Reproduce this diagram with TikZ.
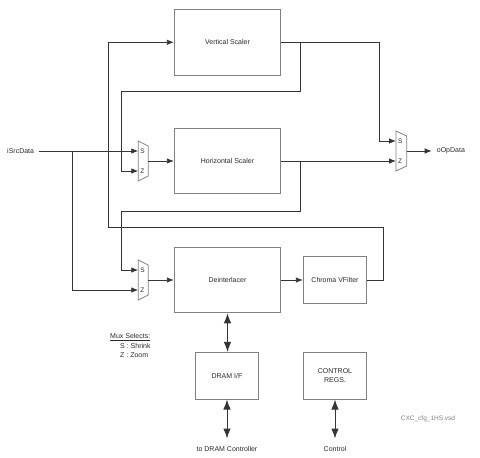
\documentclass[tikz,border=0pt]{standalone}
\usepackage{fontspec}
\setmainfont{Liberation Sans}
\usetikzlibrary{arrows.meta}
\definecolor{boxc}{HTML}{808080}
\definecolor{linec}{HTML}{353535}
\definecolor{txtc}{HTML}{2A2A2A}
\tikzset{
  blk/.style={draw=boxc, line width=0.9pt, fill=white, font=\fontsize{7}{8.5}\selectfont, text=txtc, align=center, inner sep=0pt},
  conn/.style={draw=linec, line width=0.8pt},
  arr/.style={conn, -{Latex[length=7pt,width=5.5pt]}},
  darr/.style={conn, line width=1pt, {Latex[length=10pt,width=7.5pt]}-{Latex[length=10pt,width=7.5pt]}},
  muxs/.style={draw=boxc, line width=0.8pt},
  mlab/.style={font=\fontsize{6.5}{7}\selectfont, text=txtc, inner sep=0pt, anchor=west},
  lab/.style={font=\fontsize{7}{8}\selectfont, text=txtc, inner sep=0pt},
}
\begin{document}
\begin{tikzpicture}[x=1pt,y=-1pt]
\useasboundingbox (0,0) rectangle (480,458);
% blocks
\node[blk, minimum width=106.4pt, minimum height=66pt] (VS) at (227.5,42.3) {Vertical Scaler};
\node[blk, minimum width=106.4pt, minimum height=65.7pt] (HS) at (227.5,161) {Horizontal Scaler};
\node[blk, minimum width=106.4pt, minimum height=65.6pt] (DI) at (227.5,280) {Deinterlacer};
\node[blk, minimum width=63.4pt, minimum height=46.3pt] (CV) at (335,280) {Chroma VFilter};
\node[blk, minimum width=63.4pt, minimum height=46.7pt] (DR) at (227,375.7) {DRAM I/F};
\node[blk, minimum width=63.4pt, minimum height=46.7pt] (CR) at (335,375.7) {CONTROL\\REGS.};
% muxes
\draw[muxs] (138.3,141) -- (148.3,146) -- (148.3,176) -- (138.3,181) -- cycle;
\draw[muxs] (396,131) -- (406.7,136) -- (406.7,166) -- (396,171) -- cycle;
\draw[muxs] (138.3,260) -- (148.3,265) -- (148.3,295) -- (138.3,300) -- cycle;
\coordinate (m1s) at (138.3,151); \coordinate (m1z) at (138.3,171); \coordinate (m1o) at (148.3,161);
\coordinate (m2s) at (396,141);   \coordinate (m2z) at (396,161);   \coordinate (m2o) at (406.7,151);
\coordinate (m3s) at (138.3,270); \coordinate (m3z) at (138.3,290); \coordinate (m3o) at (148.3,280);
\node[mlab] (m1sl) at (140.2,151) {S};
\node[mlab] (m1zl) at (140.2,171) {Z};
\node[mlab] (m2sl) at (397.8,141) {S};
\node[mlab] (m2zl) at (397.8,161) {Z};
\node[mlab] (m3sl) at (140.2,270) {S};
\node[mlab] (m3zl) at (140.2,290) {Z};
% texts
\node[lab, anchor=west] (src) at (7,151) {iSrcData};
\node[lab, anchor=west] (out) at (436.7,151) {oOpData};
\coordinate (outp) at (431.7,151);
\coordinate (jsrc) at (72.3,151);
\coordinate (dramc) at (227,438.5);
\coordinate (ctrlc) at (335,438.5);
\node[lab] (dramt) at (227,449.3) {to DRAM Controller};
\node[lab] (ctrlt) at (335,449.3) {Control};
\node[lab, anchor=west] (ms) at (110,337.3) {\underline{Mux Selects:}};
\node[lab, anchor=west] (msS) at (120,346) {S : Shrink};
\node[lab, anchor=west] (msZ) at (120,354.7) {Z : Zoom};
\node[font=\fontsize{6.5}{7}\selectfont, text=boxc, inner sep=0pt, anchor=west] (fname) at (400.7,418.7) {CXC\_cfg\_1HS.vsd};
% connectors
\draw[arr] (src.east) ++(5,0) -- (m1s);
\draw[arr] (jsrc) |- (m3z);
\draw[arr] (m1o) -- (HS.west);
\draw[arr] (m3o) -- (DI.west);
\draw[arr] (DI.east) -- (CV.west);
\draw[arr] (m2o) -- (outp);
\draw[arr] (VS.east) -| (379.3,141) -- (m2s);
\draw[arr] (300.3,42.3) -- (300.3,91.7) -| (121.3,171) -- (m1z);
\draw[arr] (HS.east) -- (m2z);
\draw[arr] (300.3,161) -- (300.3,211) -| (121.3,270) -- (m3s);
\draw[arr] (CV.east) -| (383.3,227.7) -| (108.7,42.3) -- (VS.west);
\draw[darr] (DI.south) -- (DI.south |- DR.north);
\draw[darr] (DR.south) -- (dramc);
\draw[darr] (CR.south) -- (ctrlc);
\end{tikzpicture}
\end{document}
